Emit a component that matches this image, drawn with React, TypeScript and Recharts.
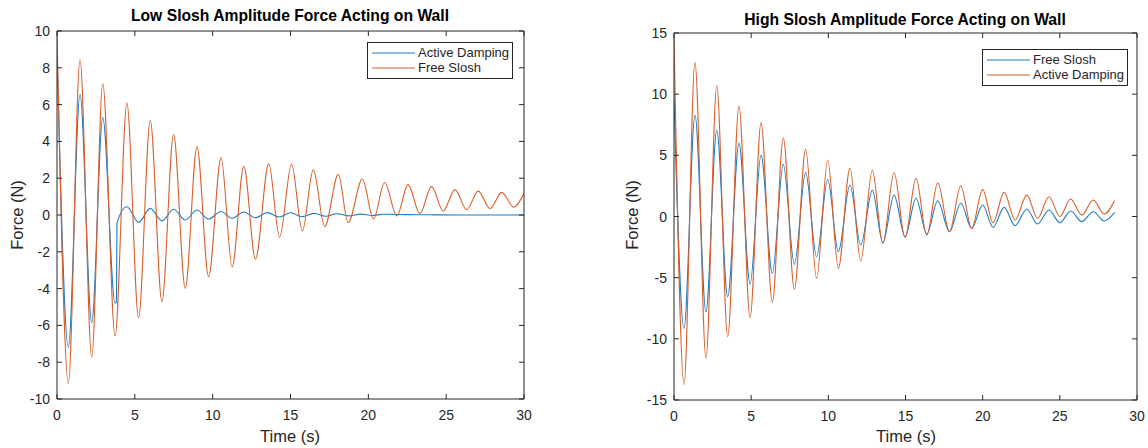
import React from 'react';
import { LineChart, Line, XAxis, YAxis } from 'recharts';

const FONT = '"Liberation Sans", Arial, Helvetica, sans-serif';
const AXIS = '#262626';
const BLUE = '#1f7cc0';
const ORANGE = '#d75f2a';

// ---------- Low slosh amplitude ----------
const lowFreeTime = [0, 0.73, 1.48, 2.23, 2.94, 3.73, 4.49, 5.24, 5.99, 6.74, 7.49, 8.24, 8.99, 9.74, 10.54, 11.25, 12.0, 12.75, 13.6, 14.3, 15.07, 15.76, 16.46, 17.2, 18.07, 18.7, 19.62, 20.33, 21.05, 21.83, 22.55, 23.31, 24.06, 24.81, 25.56, 26.32, 27.06, 27.82, 28.57, 29.34, 30];
const lowFreeForce = [9.9, -9.15, 8.45, -7.75, 7.15, -6.58, 6.08, -5.58, 5.15, -4.7, 4.37, -3.98, 3.7, -3.35, 3.12, -2.82, 2.65, -2.4, 2.78, -1.2, 2.76, -0.87, 2.45, -0.63, 2.21, -0.42, 1.96, -0.22, 1.77, -0.05, 1.65, 0.07, 1.54, 0.22, 1.38, 0.29, 1.3, 0.35, 1.23, 0.43, 1.18];
const lowActiveTime = [0, 0.73, 1.48, 2.23, 2.94, 3.73, 3.82, 3.85, 4.49, 5.24, 5.99, 6.74, 7.49, 8.24, 8.99, 9.74, 10.54, 11.25, 12.0, 12.75, 13.5, 14.25, 15.0, 15.75, 16.5, 17.25, 18.0, 18.75, 19.5, 20.25, 21.0, 22.5, 24.0, 26.0, 28.0, 30];
const lowActiveForce = [8.8, -7.2, 6.55, -5.85, 5.3, -4.8, -4.75, -0.45, 0.45, -0.4, 0.36, -0.32, 0.31, -0.27, 0.27, -0.22, 0.19, -0.18, 0.16, -0.15, 0.13, -0.11, 0.12, -0.09, 0.09, -0.07, 0.07, -0.05, 0.05, -0.03, 0.04, 0.02, 0.01, 0, 0, 0];

// ---------- High slosh amplitude ----------
const highTime = [0, 0.65, 1.36, 2.07, 2.77, 3.48, 4.21, 4.93, 5.64, 6.37, 7.08, 7.8, 8.53, 9.24, 9.96, 10.65, 11.4, 12.1, 12.85, 13.53, 14.26, 14.97, 15.68, 16.38, 17.09, 17.85, 18.58, 19.29, 20.0, 20.67, 21.39, 22.1, 22.86, 23.55, 24.3, 25.0, 25.7, 26.42, 27.17, 27.87, 28.55];
const highFreeForce = [9.6, -9.15, 8.3, -7.79, 7.07, -6.56, 5.98, -5.52, 5.02, -4.65, 4.26, -3.91, 3.61, -3.29, 3.02, -2.88, 2.57, -2.33, 2.16, -2.15, 1.75, -1.66, 1.49, -1.43, 1.29, -1.25, 1.08, -0.97, 0.94, -0.89, 0.75, -0.75, 0.61, -0.61, 0.53, -0.51, 0.45, -0.42, 0.39, -0.37, 0.34];
const highActiveForce = [14.7, -13.73, 12.6, -11.6, 10.69, -9.83, 9.03, -8.28, 7.67, -7.02, 6.44, -5.96, 5.49, -5.06, 4.62, -4.24, 3.94, -3.62, 3.8, -2.2, 3.58, -1.71, 3.12, -1.52, 2.76, -1.25, 2.49, -0.97, 2.2, -0.51, 1.97, -0.29, 1.75, -0.15, 1.61, 0.0, 1.43, 0.13, 1.35, 0.2, 1.3];

// ---------- Ticks ----------
const timeTicks = [0, 5, 10, 15, 20, 25, 30];
const lowForceTicks = [-10, -8, -6, -4, -2, 0, 2, 4, 6, 8, 10];
const highForceTicks = [-15, -10, -5, 0, 5, 10, 15];

const zip = (t: number[], f: number[]) => t.map((v, i) => ({ t: v, f: f[i] }));

const TICK_LEN = 5;

const BottomTick = (props: any) => {
  const { x, y, payload } = props;
  return (
    <g>
      <line x1={x} y1={y} x2={x} y2={y - TICK_LEN} stroke={AXIS} strokeWidth={1} />
      <text x={x} y={y + 21} textAnchor="middle" fontSize={14} fill={AXIS} fontFamily={FONT}>
        {payload.value}
      </text>
    </g>
  );
};
const TopTick = (props: any) => {
  const { x, y } = props;
  return <line x1={x} y1={y} x2={x} y2={y + TICK_LEN} stroke={AXIS} strokeWidth={1} />;
};
const LeftTick = (props: any) => {
  const { x, y, payload } = props;
  return (
    <g>
      <line x1={x} y1={y} x2={x + TICK_LEN} y2={y} stroke={AXIS} strokeWidth={1} />
      <text x={x - 7} y={y + 5} textAnchor="end" fontSize={14} fill={AXIS} fontFamily={FONT}>
        {payload.value}
      </text>
    </g>
  );
};
const RightTick = (props: any) => {
  const { x, y } = props;
  return <line x1={x} y1={y} x2={x - TICK_LEN} y2={y} stroke={AXIS} strokeWidth={1} />;
};

type Series = { name: string; color: string; data: { t: number; f: number }[] };

function Panel(props: {
  left: number;
  margin: { top: number; right: number; bottom: number; left: number };
  yDomain: [number, number];
  yTicks: number[];
  series: Series[];
}) {
  const { left, margin, yDomain, yTicks, series } = props;
  return (
    <div style={{ position: 'absolute', left, top: 0 }}>
      <LineChart width={574} height={448} margin={margin}>
        <XAxis
          xAxisId="b"
          dataKey="t"
          type="number"
          domain={[0, 30]}
          ticks={timeTicks}
          interval={0}
          allowDataOverflow
          height={30}
          tickSize={0}
          tickMargin={0}
          tickLine={false}
          axisLine={{ stroke: AXIS, strokeWidth: 1 }}
          tick={<BottomTick />}
        />
        <XAxis
          xAxisId="top"
          orientation="top"
          dataKey="t"
          type="number"
          domain={[0, 30]}
          ticks={timeTicks}
          interval={0}
          allowDataOverflow
          height={2}
          tickSize={0}
          tickMargin={0}
          tickLine={false}
          axisLine={{ stroke: AXIS, strokeWidth: 1 }}
          tick={<TopTick />}
        />
        <YAxis
          yAxisId="l"
          type="number"
          domain={yDomain}
          ticks={yTicks}
          interval={0}
          allowDataOverflow
          width={50}
          tickSize={0}
          tickMargin={0}
          tickLine={false}
          axisLine={{ stroke: AXIS, strokeWidth: 1 }}
          tick={<LeftTick />}
        />
        <YAxis
          yAxisId="r"
          orientation="right"
          type="number"
          domain={yDomain}
          ticks={yTicks}
          interval={0}
          allowDataOverflow
          width={2}
          tickSize={0}
          tickMargin={0}
          tickLine={false}
          axisLine={{ stroke: AXIS, strokeWidth: 1 }}
          tick={<RightTick />}
        />
        {series.map((s) => (
          <Line
            key={s.name}
            xAxisId="b"
            yAxisId="l"
            data={s.data}
            dataKey="f"
            name={s.name}
            type="monotone"
            stroke={s.color}
            strokeWidth={1.1}
            dot={false}
            activeDot={false}
            isAnimationActive={false}
          />
        ))}
      </LineChart>
    </div>
  );
}

function LegendBox(props: { left: number; top: number; items: { name: string; color: string }[] }) {
  return (
    <div
      style={{
        position: 'absolute',
        left: props.left,
        top: props.top,
        width: 144,
        border: `1px solid ${AXIS}`,
        background: '#fff',
        padding: '3px 0 3px 0',
        fontFamily: FONT,
        fontSize: 13,
        color: AXIS,
      }}
    >
      {props.items.map((it) => (
        <div key={it.name} style={{ display: 'flex', alignItems: 'center', height: 14.5 }}>
          <svg width={48} height={10} style={{ display: 'block' }}>
            <line x1={4} y1={5} x2={47} y2={5} stroke={it.color} strokeWidth={1.1} />
          </svg>
          <span style={{ marginLeft: 2, whiteSpace: 'nowrap', lineHeight: '14px' }}>{it.name}</span>
        </div>
      ))}
    </div>
  );
}

const textBase: React.CSSProperties = {
  position: 'absolute',
  fontFamily: FONT,
  color: AXIS,
  whiteSpace: 'nowrap',
  lineHeight: 1,
};

export default function App() {
  const lowSeries: Series[] = [
    { name: 'Active Damping', color: BLUE, data: zip(lowActiveTime, lowActiveForce) },
    { name: 'Free Slosh', color: ORANGE, data: zip(lowFreeTime, lowFreeForce) },
  ];
  const highSeries: Series[] = [
    { name: 'Free Slosh', color: BLUE, data: zip(highTime, highFreeForce) },
    { name: 'Active Damping', color: ORANGE, data: zip(highTime, highActiveForce) },
  ];
  return (
    <div style={{ position: 'absolute', left: 0, top: 0, width: 1148, height: 448, background: '#fff', overflow: 'hidden' }}>
      <Panel
        left={0}
        margin={{ top: 29, right: 48, bottom: 19, left: 7 }}
        yDomain={[-10, 10]}
        yTicks={lowForceTicks}
        series={lowSeries}
      />
      <Panel
        left={574}
        margin={{ top: 31, right: 9, bottom: 18, left: 50 }}
        yDomain={[-15, 15]}
        yTicks={highForceTicks}
        series={highSeries}
      />

      {/* titles */}
      <div style={{ ...textBase, left: 290, top: 8, transform: 'translateX(-50%)', fontSize: 15.7, fontWeight: 'bold', color: '#000' }}>
        Low Slosh Amplitude Force Acting on Wall
      </div>
      <div style={{ ...textBase, left: 905, top: 12, transform: 'translateX(-50%)', fontSize: 15.7, fontWeight: 'bold', color: '#000' }}>
        High Slosh Amplitude Force Acting on Wall
      </div>

      {/* x labels */}
      <div style={{ ...textBase, left: 290, top: 428, transform: 'translateX(-50%)', fontSize: 16.5 }}>Time (s)</div>
      <div style={{ ...textBase, left: 906, top: 428, transform: 'translateX(-50%)', fontSize: 16.5 }}>Time (s)</div>

      {/* y labels */}
      <div style={{ ...textBase, left: 17, top: 215, transform: 'translate(-50%, -50%) rotate(-90deg)', fontSize: 16.5 }}>Force (N)</div>
      <div style={{ ...textBase, left: 632, top: 215, transform: 'translate(-50%, -50%) rotate(-90deg)', fontSize: 16.5 }}>Force (N)</div>

      <LegendBox
        left={367}
        top={42}
        items={[
          { name: 'Active Damping', color: BLUE },
          { name: 'Free Slosh', color: ORANGE },
        ]}
      />
      <LegendBox
        left={982}
        top={49}
        items={[
          { name: 'Free Slosh', color: BLUE },
          { name: 'Active Damping', color: ORANGE },
        ]}
      />
    </div>
  );
}
